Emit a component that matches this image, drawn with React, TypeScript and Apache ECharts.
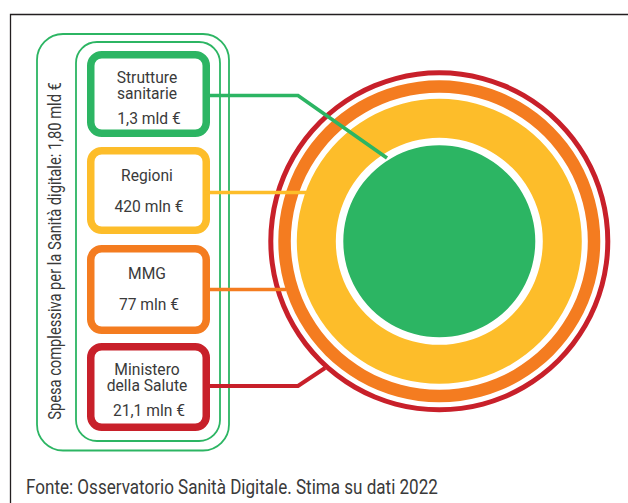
import React, { useEffect, useRef } from "react";
import * as echarts from "echarts";

// ---- data ----
const categories: string[][] = [["Strutture", "sanitarie"], ["Regioni"], ["MMG"], ["Ministero", "della Salute"]];
const amountLabels: string[] = ["1,3 mld €", "420 mln €", "77 mln €", "21,1 mln €"];
const amountsMln: number[] = [1300, 420, 77, 21.1];
const totalLabel = "Spesa complessiva per la Sanità digitale: 1,80 mld €";
const sourceLabel = "Fonte: Osservatorio Sanità Digitale. Stima su dati 2022";

// ---- styles / layout ----
const palette = ["#2cb563", "#fdbd2a", "#f47c20", "#c8202a"];
const textColor = "#3a3a3a";
const FONT = "Roboto, 'Liberation Sans', sans-serif";
const boxTops = [51, 147, 245, 343];
const boxBottoms = [137, 234, 334, 431];
const boxLeft = 87;
const boxRight = 210;
const center = [439.3, 241.3];
const ringRadii: [number, number][] = [
  [0, 96],
  [103.5, 142.5],
  [148.5, 161],
  [166, 171],
];
const connectors: number[][][] = [
  [[205, 95.5], [298, 95.5], [387, 158]],
  [[205, 192.5], [306, 192.5]],
  [[205, 289.5], [286, 289.5]],
  [[205, 386], [298, 386], [325, 368]],
];

function measure(text: string, size: number): number {
  const c = document.createElement("canvas").getContext("2d");
  if (!c) return text.length * size * 0.5;
  c.font = `${size}px Roboto`;
  return c.measureText(text).width;
}

export default function App() {
  const ref = useRef<HTMLDivElement>(null);
  useEffect(() => {
    document.body.style.margin = "0";
    if (!ref.current) return;
    const chart = echarts.init(ref.current, undefined, { renderer: "svg" });

    const boxFont = 17;
    const boxScale = 69 / measure("420 mln €", boxFont);
    const vertFont = 18;
    const vertScale = 338 / measure(totalLabel, vertFont);
    const footFont = 20;
    const footScale = 412 / measure(sourceLabel, footFont);

    const graphics: any[] = [];
    // frame
    graphics.push({
      type: "rect",
      shape: { x: 10.5, y: 14.5, width: 800, height: 600 },
      style: { fill: "none", stroke: "#231f20", lineWidth: 1.3 },
      z: 1,
    });
    // outer rounded rects
    graphics.push({
      type: "rect",
      shape: { x: 37, y: 34, width: 192, height: 416.5, r: 26 },
      style: { fill: "none", stroke: palette[0], lineWidth: 1.8 },
      z: 1,
    });
    graphics.push({
      type: "rect",
      shape: { x: 76, y: 42, width: 144, height: 399, r: 21 },
      style: { fill: "none", stroke: palette[0], lineWidth: 1.8 },
      z: 1,
    });
    // vertical total label
    graphics.push({
      type: "text",
      x: 55,
      y: 251,
      rotation: Math.PI / 2,
      scaleX: vertScale,
      style: {
        text: totalLabel,
        fill: textColor,
        font: `${vertFont}px ${FONT}`,
        textAlign: "center",
        textVerticalAlign: "middle",
      },
      z: 5,
    });
    // boxes
    categories.forEach((lines, i) => {
      const top = boxTops[i];
      const bottom = boxBottoms[i];
      const lw = 7.5;
      graphics.push({
        type: "rect",
        shape: {
          x: boxLeft + lw / 2,
          y: top + lw / 2,
          width: boxRight - boxLeft - lw,
          height: bottom - top - lw,
          r: 11,
        },
        style: { fill: "#fff", stroke: palette[i], lineWidth: lw },
        z: 5,
      });
      const cx = 147;
      const ys = lines.length === 2 ? [top + 26, top + 42] : [top + 28];
      lines.forEach((ln, k) => {
        graphics.push({
          type: "text",
          x: cx,
          y: ys[k],
          scaleX: boxScale,
          style: {
            text: ln,
            fill: textColor,
            font: `${boxFont}px ${FONT}`,
            textAlign: "center",
            textVerticalAlign: "middle",
          },
          z: 6,
        });
      });
      graphics.push({
        type: "text",
        x: cx + 2,
        y: lines.length === 2 ? top + 67 : top + 59,
        scaleX: boxScale,
        style: {
          text: amountLabels[i],
          fill: textColor,
          font: `${boxFont}px ${FONT}`,
          textAlign: "center",
          textVerticalAlign: "middle",
        },
        z: 6,
      });
      graphics.push({
        type: "polyline",
        shape: { points: connectors[i] },
        style: { fill: "none", stroke: palette[i], lineWidth: i === 3 ? 4 : 3.7 },
        z: 10,
      });
    });
    // footer
    graphics.push({
      type: "text",
      x: 26,
      y: 488,
      scaleX: footScale,
      style: {
        text: sourceLabel,
        fill: textColor,
        font: `${footFont}px ${FONT}`,
        textAlign: "left",
        textVerticalAlign: "middle",
      },
      z: 5,
    });

    const series = categories.map((lines, i) => ({
      type: "pie",
      name: lines.join(" "),
      center: center,
      radius: ringRadii[i],
      silent: true,
      z: 2,
      label: { show: false },
      labelLine: { show: false },
      emphasis: { disabled: true },
      itemStyle: { color: palette[i], borderWidth: 0 },
      data: [{ name: lines.join(" "), value: amountsMln[i] }],
    }));

    chart.setOption({
      animation: false,
      backgroundColor: "#ffffff",
      graphic: { elements: graphics },
      series,
    });
    return () => chart.dispose();
  }, []);
  return <div ref={ref} style={{ width: 628, height: 503 }} />;
}
